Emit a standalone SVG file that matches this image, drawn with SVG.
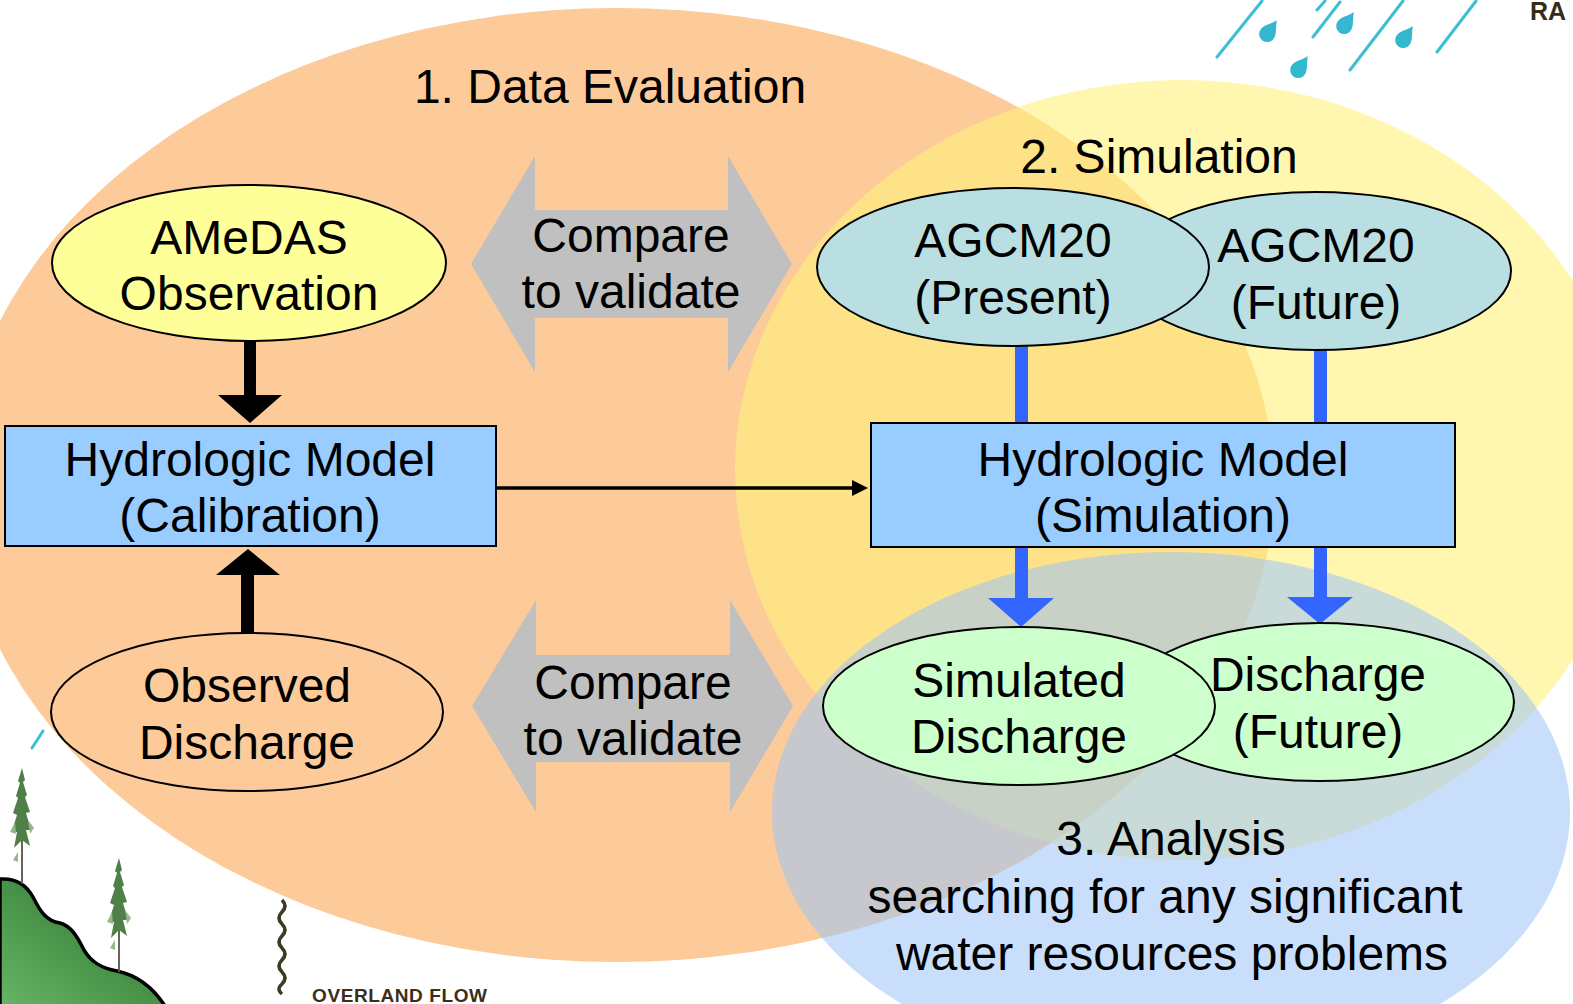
<svg xmlns="http://www.w3.org/2000/svg" width="1573" height="1004" viewBox="0 0 1573 1004">
  <style>
    .t { font-family: "Liberation Sans", Arial, sans-serif; font-size: 48px; fill: #000; text-anchor: middle; }
    .node { stroke: #000; stroke-width: 2; }
    .yel { fill: #FFFF99; }
    .org { fill: #FDCA99; }
    .box { fill: #99CCFF; }
    .gcm { fill: #B9DFE3; }
    .grn { fill: #CCFFCC; }
    .gray { fill: #C0C0C0; }
    .blk { fill: #000; }
    .blu { fill: #3366FF; }
    .rain { stroke: #3CBFD2; stroke-width: 3; stroke-linecap: round; fill: none; }
    .drop { fill: #34B8CF; }
  </style>
  <defs>
    <linearGradient id="hillFill" x1="1" y1="0" x2="0" y2="1">
      <stop offset="0" stop-color="#256F28"/>
      <stop offset="1" stop-color="#68B466"/>
    </linearGradient>
    <path id="drop" d="M0,-12 C3,-5 8,-1 8,5 A8,8 0 1 1 -8,5 C-8,-1 -3,-5 0,-12 Z"/>
  </defs>

  <rect width="1573" height="1004" fill="#FFFFFF"/>

  <!-- background landscape: rain, hill, trees, runoff -->
  <g id="scenery">
    <line class="rain" x1="1217" y1="57" x2="1262" y2="1"/>
    <line class="rain" x1="1313" y1="37" x2="1340" y2="2"/>
    <line class="rain" x1="1317" y1="10" x2="1325" y2="1"/>
    <line class="rain" x1="1350" y1="70" x2="1403" y2="1"/>
    <line class="rain" x1="1437" y1="52" x2="1476" y2="1"/>
    <line class="rain" x1="32" y1="748" x2="43" y2="731"/>
    <use href="#drop" class="drop" transform="translate(1270,30) rotate(35)"/>
    <use href="#drop" class="drop" transform="translate(1347,22) rotate(35)"/>
    <use href="#drop" class="drop" transform="translate(1301,66) rotate(35)"/>
    <use href="#drop" class="drop" transform="translate(1406,36) rotate(35)"/>
    <text x="1530" y="20" style="font-family:'Liberation Sans',Arial,sans-serif;font-size:25px;font-weight:bold;fill:#3A2C14">RA</text>

    <path d="M0,879 C14,878 26,884 33,897 C40,911 46,921 60,923 C71,926 77,936 84,950 C91,962 101,968 117,971 C136,975 152,986 165,1006 L0,1006 Z" fill="url(#hillFill)" stroke="#000" stroke-width="3.5"/>
    <!-- conifers -->
    <g opacity="0.9">
      <line x1="22" y1="795" x2="22" y2="884" stroke="#5A5546" stroke-width="2"/>
      <path d="M22,768 L25,780 L23,782 L27,795 L25,797 L30,812 L26,813 L31,830 L26,830 L30,846 L22,840 L14,848 L17,832 L12,831 L17,815 L13,813 L18,798 L16,796 L20,783 L18,781 Z" fill="#3C7334"/>
      <path d="M28,820 L34,828 L30,834 Z M15,822 L10,832 L16,834 Z M18,852 L13,860 L18,862 Z" fill="#8AB07E"/>
    </g>
    <g opacity="0.9">
      <line x1="119" y1="880" x2="119" y2="972" stroke="#5A5546" stroke-width="2"/>
      <path d="M119,858 L122,870 L120,872 L124,885 L122,887 L127,902 L123,903 L128,920 L123,920 L127,936 L119,930 L111,938 L114,922 L109,921 L114,905 L110,903 L115,888 L113,886 L117,873 L115,871 Z" fill="#3C7334"/>
      <path d="M125,910 L131,918 L127,924 Z M112,912 L107,922 L113,924 Z M115,940 L110,948 L115,950 Z" fill="#8AB07E"/>
    </g>
    <path d="M282,900 q6,6 0,12 q-6,6 0,12 q6,6 0,12 q-6,6 0,12 q6,6 0,12 q-6,6 0,12 q6,6 0,12 q-6,5 0,10" fill="none" stroke="#3B3A22" stroke-width="3.5"/>
    <text x="312" y="1002" style="font-family:'Liberation Sans',Arial,sans-serif;font-size:19px;font-weight:bold;fill:#3B2E1A;letter-spacing:0.6px">OVERLAND FLOW</text>
  </g>

  <!-- phase areas -->
  <g id="phases">
    <ellipse id="phase-evaluation" cx="617" cy="485" rx="657" ry="477" fill="#FDCA99"/>
    <ellipse id="phase-simulation" cx="1182" cy="470" rx="447" ry="390" fill="#FFF27B" fill-opacity="0.6"/>
    <ellipse id="phase-analysis" cx="1171" cy="812" rx="399" ry="260" fill="#9EC5F6" fill-opacity="0.57"/>
    <text class="t" x="610" y="103">1. Data Evaluation</text>
    <text class="t" x="1159" y="173">2. Simulation</text>
    <text class="t" x="1171" y="855">3. Analysis</text>
    <text class="t" x="1165" y="913">searching for any significant</text>
    <text class="t" x="1172" y="970">water resources problems</text>
  </g>

  <!-- connectors -->
  <g id="connectors">
    <g id="compare-top">
      <polygon class="gray" points="471,264 535,156 535,210 728,210 728,156 792,264 728,372 728,318 535,318 535,372"/>
      <text class="t" x="631" y="252">Compare</text>
      <text class="t" x="631" y="308">to validate</text>
    </g>
    <g id="compare-bottom">
      <polygon class="gray" points="472,706 536,600 536,655 730,655 730,600 793,706 730,812 730,762 536,762 536,812"/>
      <text class="t" x="633" y="699">Compare</text>
      <text class="t" x="633" y="755">to validate</text>
    </g>
    <polygon class="blk" points="244,340 256,340 256,395 282,395 250,423 218,395 244,395"/>
    <polygon class="blk" points="241,634 254,634 254,575 280,575 248,549 216,575 241,575"/>
    <line x1="497" y1="488" x2="853" y2="488" stroke="#000" stroke-width="3.5"/>
    <polygon class="blk" points="852,480 868,488 852,496"/>
    <rect class="blu" x="1015" y="344" width="13" height="80"/>
    <rect class="blu" x="1314" y="348" width="13" height="76"/>
    <polygon class="blu" points="1015,547 1028,547 1028,598 1054,598 1021,627 988,598 1015,598"/>
    <polygon class="blu" points="1314,547 1327,547 1327,597 1353,597 1320,624 1287,597 1314,597"/>
  </g>

  <!-- nodes -->
  <g id="amedas">
    <ellipse class="node yel" cx="249" cy="263" rx="197" ry="78"/>
    <text class="t" x="249" y="254">AMeDAS</text>
    <text class="t" x="249" y="310">Observation</text>
  </g>
  <g id="model-calibration">
    <rect class="node box" x="5" y="426" width="491" height="120"/>
    <text class="t" x="250" y="476">Hydrologic Model</text>
    <text class="t" x="250" y="532">(Calibration)</text>
  </g>
  <g id="observed-discharge">
    <ellipse class="node org" cx="247" cy="712" rx="196" ry="79"/>
    <text class="t" x="247" y="702">Observed</text>
    <text class="t" x="247" y="759">Discharge</text>
  </g>
  <g id="agcm-future">
    <ellipse class="node gcm" cx="1316" cy="271" rx="195" ry="79"/>
    <text class="t" x="1316" y="262">AGCM20</text>
    <text class="t" x="1316" y="319">(Future)</text>
  </g>
  <g id="agcm-present">
    <ellipse class="node gcm" cx="1013" cy="267" rx="196" ry="79"/>
    <text class="t" x="1013" y="257">AGCM20</text>
    <text class="t" x="1013" y="314">(Present)</text>
  </g>
  <g id="model-simulation">
    <rect class="node box" x="871" y="423" width="584" height="124"/>
    <text class="t" x="1163" y="476">Hydrologic Model</text>
    <text class="t" x="1163" y="532">(Simulation)</text>
  </g>
  <g id="discharge-future">
    <ellipse class="node grn" cx="1319" cy="702" rx="195" ry="79"/>
    <text class="t" x="1318" y="691">Discharge</text>
    <text class="t" x="1318" y="748">(Future)</text>
  </g>
  <g id="simulated-discharge">
    <ellipse class="node grn" cx="1019" cy="706" rx="196" ry="79"/>
    <text class="t" x="1019" y="697">Simulated</text>
    <text class="t" x="1019" y="753">Discharge</text>
  </g>
</svg>
